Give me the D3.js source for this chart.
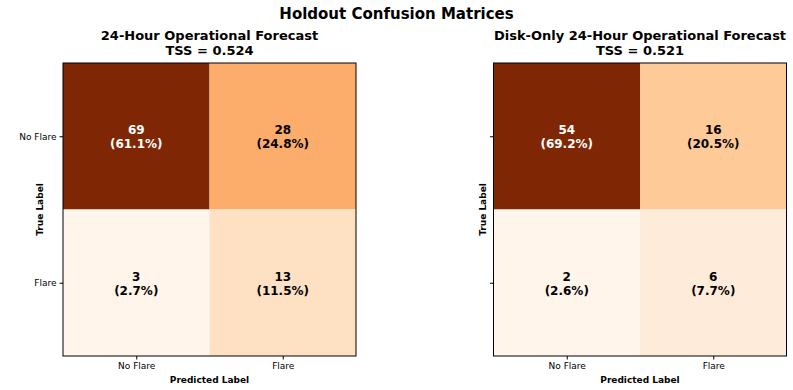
<!DOCTYPE html>
<html>
<head>
<meta charset="utf-8">
<script src="https://cdn.jsdelivr.net/npm/d3@7"></script>
<style>
  body { margin: 0; background: #fff; }
  text { font-family: "DejaVu Sans", sans-serif; }
</style>
</head>
<body>
<div id="chart"></div>
<script>
'use strict';

var chartTitle = 'Holdout Confusion Matrices';
var panelTitles = ['24-Hour Operational Forecast', 'Disk-Only 24-Hour Operational Forecast'];
var tssValues = ['0.524', '0.521'];
var classLabels = ['No Flare', 'Flare'];
// rows = true label, cols = predicted label
var countsLeft = [[69, 28], [3, 13]];
var countsRight = [[54, 16], [2, 6]];
var pctLeft = [['61.1%', '24.8%'], ['2.7%', '11.5%']];
var pctRight = [['69.2%', '20.5%'], ['2.6%', '7.7%']];

var W = 793, H = 390;
var size = 293;
var panels = [
  {x: 63, y: 63, counts: countsLeft, pct: pctLeft, showLabels: true},
  {x: 493.5, y: 63, counts: countsRight, pct: pctRight, showLabels: false}
];

var svg = d3.select('#chart').append('svg')
  .attr('width', W)
  .attr('height', H);

svg.append('text')
  .attr('x', W / 2)
  .attr('y', 19)
  .attr('text-anchor', 'middle')
  .style('font-size', '15px')
  .style('font-weight', 'bold')
  .text(chartTitle);

panels.forEach(function(p, k) {
  var g = svg.append('g').attr('transform', 'translate(' + p.x + ',' + p.y + ')');

  var x = d3.scaleBand().domain(d3.range(2)).range([0, size]);
  var y = d3.scaleBand().domain(d3.range(2)).range([0, size]);

  var flat = [];
  p.counts.forEach(function(row, i) {
    row.forEach(function(v, j) {
      flat.push({r: i, c: j, v: v, pct: p.pct[i][j]});
    });
  });
  var ext = d3.extent(flat, function(d) { return d.v; });
  var color = d3.scaleSequential(d3.interpolateOranges).domain(ext);
  var thresh = (ext[0] + ext[1]) / 2;

  g.selectAll('rect.cell')
    .data(flat)
    .enter()
    .append('rect')
    .attr('class', 'cell')
    .attr('x', function(d) { return x(d.c); })
    .attr('y', function(d) { return y(d.r); })
    .attr('width', x.bandwidth())
    .attr('height', y.bandwidth())
    .attr('fill', function(d) { return color(d.v); });

  var labels = g.selectAll('text.val')
    .data(flat)
    .enter()
    .append('text')
    .attr('class', 'val')
    .attr('text-anchor', 'middle')
    .style('font-size', '12px')
    .style('font-weight', 'bold')
    .attr('fill', function(d) { return d.v > thresh ? '#fff' : '#000'; });
  labels.append('tspan')
    .attr('x', function(d) { return x(d.c) + x.bandwidth() / 2; })
    .attr('y', function(d) { return y(d.r) + y.bandwidth() / 2 - 2; })
    .text(function(d) { return d.v; });
  labels.append('tspan')
    .attr('x', function(d) { return x(d.c) + x.bandwidth() / 2; })
    .attr('y', function(d) { return y(d.r) + y.bandwidth() / 2 + 12; })
    .text(function(d) { return '(' + d.pct + ')'; });

  // frame
  g.append('rect')
    .attr('width', size)
    .attr('height', size)
    .attr('fill', 'none')
    .attr('stroke', '#000')
    .attr('stroke-width', 1);

  var xAxis = d3.axisBottom(d3.scalePoint().domain(classLabels).range([x.bandwidth() / 2, size - x.bandwidth() / 2]))
    .tickSize(3.5).tickPadding(3);
  var gx = g.append('g').attr('transform', 'translate(0,' + size + ')').call(xAxis);
  gx.select('.domain').remove();
  gx.selectAll('text').style('font-size', '9px').attr('fill', '#000').style('font-family', '"DejaVu Sans", sans-serif');

  var yAxis = d3.axisLeft(d3.scalePoint().domain(classLabels).range([y.bandwidth() / 2, size - y.bandwidth() / 2]))
    .tickSize(3.5).tickPadding(3);
  if (!p.showLabels) yAxis.tickFormat('');
  var gy = g.append('g').call(yAxis);
  gy.select('.domain').remove();
  gy.selectAll('text').style('font-size', '9px').attr('fill', '#000').style('font-family', '"DejaVu Sans", sans-serif');

  g.append('text')
    .attr('x', size / 2)
    .attr('y', -23)
    .attr('text-anchor', 'middle')
    .style('font-size', '13px')
    .style('font-weight', 'bold')
    .text(panelTitles[k]);
  g.append('text')
    .attr('x', size / 2)
    .attr('y', -8)
    .attr('text-anchor', 'middle')
    .style('font-size', '13px')
    .style('font-weight', 'bold')
    .text('TSS = ' + tssValues[k]);

  g.append('text')
    .attr('x', size / 2)
    .attr('y', size + 27)
    .attr('text-anchor', 'middle')
    .style('font-size', '9px')
    .style('font-weight', 'bold')
    .text('Predicted Label');

  g.append('text')
    .attr('transform', 'translate(' + (p.showLabels ? -20 : -8) + ',' + (size / 2) + ') rotate(-90)')
    .attr('text-anchor', 'middle')
    .style('font-size', '9px')
    .style('font-weight', 'bold')
    .text('True Label');
});
</script>
</body>
</html>
